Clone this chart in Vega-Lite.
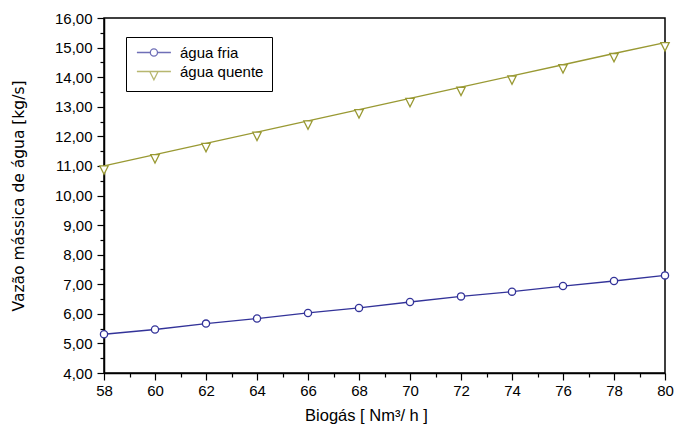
{
  "$schema": "https://vega.github.io/schema/vega-lite/v6.json",
  "width": 561,
  "height": 355,
  "autosize": {"type": "none"},
  "padding": {"left": 104, "top": 18, "right": 9, "bottom": 55},
  "background": "white",
  "config": {
    "view": {"stroke": "#000", "strokeWidth": 1.5},
    "font": "Liberation Sans",
    "axis": {"domainColor": "#000", "domainWidth": 1.5, "tickColor": "#000", "tickWidth": 1.2, "grid": false, "labelColor": "#000", "titleColor": "#000", "titleFontWeight": "normal"}
  },
  "data": {
    "values": [
      {"biogas": 58, "serie": "água fria", "vazao": 5.31},
      {"biogas": 60, "serie": "água fria", "vazao": 5.47},
      {"biogas": 62, "serie": "água fria", "vazao": 5.67},
      {"biogas": 64, "serie": "água fria", "vazao": 5.84},
      {"biogas": 66, "serie": "água fria", "vazao": 6.03},
      {"biogas": 68, "serie": "água fria", "vazao": 6.2},
      {"biogas": 70, "serie": "água fria", "vazao": 6.4},
      {"biogas": 72, "serie": "água fria", "vazao": 6.59},
      {"biogas": 74, "serie": "água fria", "vazao": 6.75},
      {"biogas": 76, "serie": "água fria", "vazao": 6.94},
      {"biogas": 78, "serie": "água fria", "vazao": 7.11},
      {"biogas": 80, "serie": "água fria", "vazao": 7.3},
      {"biogas": 58, "serie": "água quente", "vazao": 11.0},
      {"biogas": 60, "serie": "água quente", "vazao": 11.38},
      {"biogas": 62, "serie": "água quente", "vazao": 11.76},
      {"biogas": 64, "serie": "água quente", "vazao": 12.14},
      {"biogas": 66, "serie": "água quente", "vazao": 12.52},
      {"biogas": 68, "serie": "água quente", "vazao": 12.9},
      {"biogas": 70, "serie": "água quente", "vazao": 13.28},
      {"biogas": 72, "serie": "água quente", "vazao": 13.66},
      {"biogas": 74, "serie": "água quente", "vazao": 14.04},
      {"biogas": 76, "serie": "água quente", "vazao": 14.42},
      {"biogas": 78, "serie": "água quente", "vazao": 14.8},
      {"biogas": 80, "serie": "água quente", "vazao": 15.17}
    ]
  },
  "encoding": {
    "x": {
      "field": "biogas", "type": "quantitative",
      "scale": {"domain": [58, 80], "nice": false, "zero": false},
      "axis": {
        "values": [58,59,60,61,62,63,64,65,66,67,68,69,70,71,72,73,74,75,76,77,78,79,80],
        "labelExpr": "datum.value % 2 === 0 ? datum.label : ''",
        "tickSize": {"condition": {"test": "datum.value % 2 !== 0", "value": 4}, "value": 7},
        "labelFont": "Liberation Sans", "labelFontSize": 15, "labelPadding": 3,
        "labelFlush": false, "labelOverlap": false,
        "title": "Biogás  [ Nm³/ h ]",
        "titleFont": "Liberation Sans", "titleFontSize": 16.5,
        "titleX": 262, "titleY": 47, "titleAlign": "center", "titleBaseline": "alphabetic"
      }
    },
    "y": {
      "field": "vazao", "type": "quantitative",
      "scale": {"domain": [4, 16], "nice": false, "zero": false},
      "axis": {
        "values": [4,4.5,5,5.5,6,6.5,7,7.5,8,8.5,9,9.5,10,10.5,11,11.5,12,12.5,13,13.5,14,14.5,15,15.5,16],
        "labelExpr": "datum.value % 1 === 0 ? replace(format(datum.value, '.2f'), '.', ',') : ''",
        "tickSize": {"condition": {"test": "datum.value % 1 !== 0", "value": 4}, "value": 7},
        "labelFont": "Liberation Sans", "labelFontSize": 15, "labelPadding": 5,
        "labelFlush": false, "labelOverlap": false,
        "title": "Vazão mássica de água [kg/s]",
        "titleFont": "DejaVu Sans", "titleFontSize": 15.5,
        "titleX": -86, "titleY": 177.5, "titleAngle": 270, "titleAlign": "center", "titleBaseline": "middle"
      }
    }
  },
  "layer": [
    {
      "mark": {"type": "line", "strokeWidth": 1.3},
      "encoding": {
        "color": {"field": "serie", "type": "nominal", "scale": {"domain": ["água fria", "água quente"], "range": ["#333399", "#999933"]}, "legend": null}
      }
    },
    {
      "mark": {"type": "point", "filled": false, "fill": "white", "fillOpacity": 1, "opacity": 1, "strokeWidth": 1.3, "size": 64},
      "encoding": {
        "color": {"field": "serie", "type": "nominal", "scale": {"domain": ["água fria", "água quente"], "range": ["#333399", "#999933"]}, "legend": null},
        "shape": {
          "field": "serie", "type": "nominal",
          "scale": {"domain": ["água fria", "água quente"], "range": ["M-0.9,0A0.9,0.9,0,1,1,0.9,0A0.9,0.9,0,1,1,-0.9,0Z", "M-1.05,0L1.05,0L0,2.1Z"]},
          "legend": null
        }
      }
    },
    {
      "transform": [{"filter": "datum.biogas < 0"}],
      "mark": {"type": "point", "filled": false, "strokeWidth": 1.3, "size": 64},
      "encoding": {
        "color": {
          "field": "serie", "type": "nominal",
          "scale": {"domain": ["água fria", "água quente"], "range": ["#333399", "#999933"]},
          "legend": {
            "orient": "none", "legendX": 22, "legendY": 19, "title": null,
            "strokeColor": "#000", "fillColor": "white", "padding": 8,
            "symbolSize": 64, "symbolStrokeWidth": 1.3, "labelOffset": 31,
            "labelFont": "Liberation Sans", "labelFontSize": 15, "labelColor": "#000", "rowPadding": 3
          }
        },
        "shape": {
          "field": "serie", "type": "nominal",
          "scale": {"domain": ["água fria", "água quente"], "range": ["M-1.15,0H2.2M4,0H7.35M2.2,0A0.9,0.9,0,1,1,4,0A0.9,0.9,0,1,1,2.2,0Z", "M-1.15,0H2.05M4.15,0H7.35M2.05,0L4.15,0L3.1,2.1Z"]},
          "legend": {
            "orient": "none", "legendX": 22, "legendY": 19, "title": null,
            "strokeColor": "#000", "fillColor": "white", "padding": 8,
            "symbolSize": 64, "symbolStrokeWidth": 1.3, "labelOffset": 31,
            "labelFont": "Liberation Sans", "labelFontSize": 15, "labelColor": "#000", "rowPadding": 3
          }
        }
      }
    }
  ],
  "resolve": {"scale": {"shape": "independent", "color": "independent"}}
}
